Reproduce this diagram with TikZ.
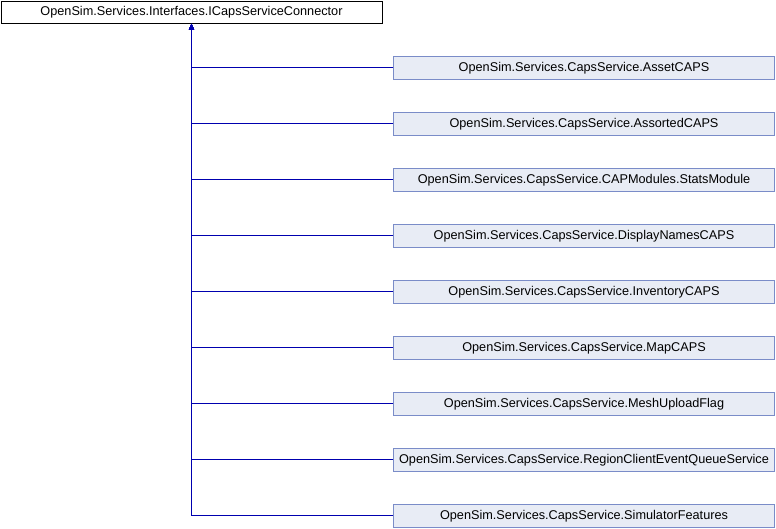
\documentclass[tikz,border=0pt]{standalone}
\usepackage{fontspec}
\setmainfont{Liberation Sans}
\usetikzlibrary{arrows.meta}
\definecolor{edgecol}{RGB}{0,0,175}
\definecolor{boxfill}{RGB}{232,236,245}
\definecolor{boxline}{RGB}{122,140,200}
\begin{document}
\begin{tikzpicture}[x=1pt,y=-1pt,
  basebox/.style={draw=black,fill=white,minimum width=381pt,minimum height=22pt,inner sep=0pt,font=\fontsize{12.7}{14}\selectfont},
  childbox/.style={draw=boxline,fill=boxfill,minimum width=381pt,minimum height=22.5pt,inner sep=0pt,font=\fontsize{12.7}{14}\selectfont},
  edge/.style={edgecol,line width=1.3pt,-{Triangle[length=6pt,width=5pt]}}]
\useasboundingbox (0,0) rectangle (776,528);
\node[basebox] (top) at (191.5,12.5) {OpenSim.Services.Interfaces.ICapsServiceConnector};
\foreach \n/\t [count=\i from 0] in {
  c1/OpenSim.Services.CapsService.AssetCAPS,
  c2/OpenSim.Services.CapsService.AssortedCAPS,
  c3/OpenSim.Services.CapsService.CAPModules.StatsModule,
  c4/OpenSim.Services.CapsService.DisplayNamesCAPS,
  c5/OpenSim.Services.CapsService.InventoryCAPS,
  c6/OpenSim.Services.CapsService.MapCAPS,
  c7/OpenSim.Services.CapsService.MeshUploadFlag,
  c8/OpenSim.Services.CapsService.RegionClientEventQueueService,
  c9/OpenSim.Services.CapsService.SimulatorFeatures}{
  \node[childbox] (\n) at (584,67.8+56*\i) {\t};
  \draw[edge] (\n.west) -| (top.south);
}
\end{tikzpicture}
\end{document}
